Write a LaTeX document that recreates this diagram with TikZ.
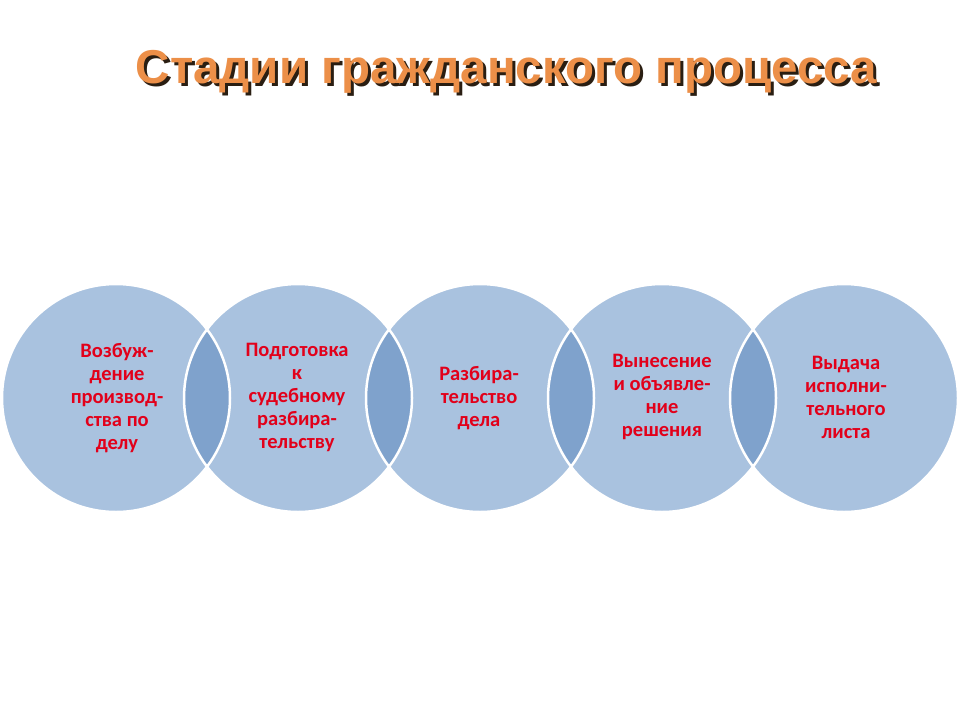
\documentclass[tikz,border=0pt]{standalone}
\usepackage{fontspec}
\newfontfamily\bodyfont{Carlito}
\newfontfamily\titlefont{Liberation Sans}
\definecolor{circfill}{HTML}{A9C2DF}
\definecolor{lensfill}{HTML}{7FA2CC}
\definecolor{lblred}{HTML}{E2001A}
\definecolor{titleorange}{HTML}{EC8F48}
\definecolor{titleshadow}{HTML}{2A1E12}
\begin{document}
\begin{tikzpicture}[x=1pt,y=-1pt,
  stage/.style={circle, minimum size=228pt, inner sep=0pt, fill=circfill},
  ring/.style={draw=white, line width=2.5pt},
  lens/.style={fill=lensfill},
  lbl/.style={align=center, text=lblred, font=\bodyfont\bfseries\fontsize{20.5}{23}\selectfont},
  ttl/.style={font=\titlefont\bfseries\fontsize{47.5}{54}\selectfont, inner sep=0pt}]
\fill[white] (0,0) rectangle (960,720);
\useasboundingbox (0,0) rectangle (960,720);
% title with shadow
\node[ttl, text=titleshadow] (titleshade) at (509.5,74.5) {Стадии гражданского процесса};
\node[ttl, text=titleorange] (title) at (506.5,71.5) {Стадии гражданского процесса};
% circles
\node[stage] (c1) at (116,398) {};
\node[stage] (c2) at (298,398) {};
\node[stage] (c3) at (480,398) {};
\node[stage] (c4) at (662,398) {};
\node[stage] (c5) at (844,398) {};
% overlaps
\foreach \a/\b in {c1/c2,c2/c3,c3/c4,c4/c5}{
  \begin{scope}
    \clip (\a.center) circle (114);
    \fill[lens] (\b.center) circle (114);
  \end{scope}
}
% outlines
\foreach \c in {c1,c2,c3,c4,c5}{
  \draw[ring] (\c.center) circle (114);
}
% labels
\node[lbl] (t1) at (117,398) {Возбуж-\\дение\\производ-\\ства по\\делу};
\node[lbl] (t2) at (297,397) {Подготовка\\к\\судебному\\разбира-\\тельству};
\node[lbl] (t3) at (479,398) {Разбира-\\тельство\\дела};
\node[lbl] (t4) at (662,397) {Вынесение\\и объявле-\\ние\\решения};
\node[lbl] (t5) at (846,397) {Выдача\\исполни-\\тельного\\листа};
\end{tikzpicture}
\end{document}
